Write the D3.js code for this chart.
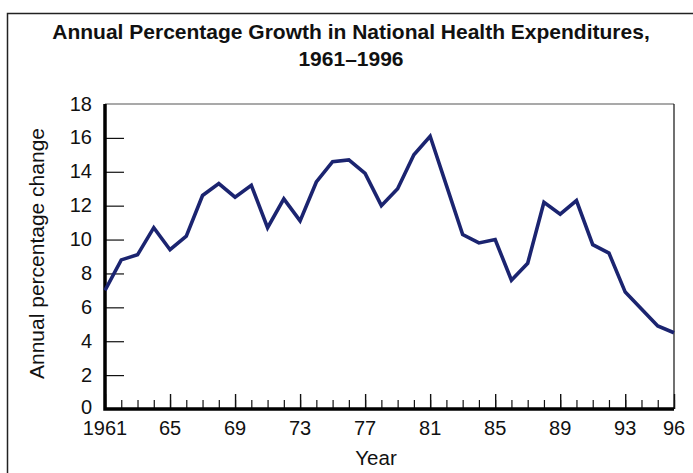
<!DOCTYPE html>
<html>
<head>
<meta charset="utf-8">
<script src="https://cdn.jsdelivr.net/npm/d3@7"></script>
<style>
	body { margin: 0; background: #fff; }
	text { font-family: "Liberation Sans", Arial, sans-serif; fill: #111; }
</style>
</head>
<body>
<script>

// annual % change in national health expenditures
var years = d3.range(1961, 1997)
var growth = [
	7.0, 8.8, 9.1, 10.7, 9.4, 10.2, 12.6, 13.3, 12.5, 13.2,
	10.7, 12.4, 11.1, 13.4, 14.6, 14.7, 13.9, 12.0, 13.0, 15.0,
	16.1, 13.2, 10.3, 9.8, 10.0, 7.6, 8.6, 12.2, 11.5, 12.3,
	9.7, 9.2, 6.9, 5.9, 4.9, 4.5
]
var yTicks = [0, 2, 4, 6, 8, 10, 12, 14, 16, 18]
var xLabelYears = [1961, 1965, 1969, 1973, 1977, 1981, 1985, 1989, 1993, 1996]
var titleLines = ['Annual Percentage Growth in National Health Expenditures,', '1961\u20131996']

var W = 693, H = 473
var margin = {top: 104, right: 19, bottom: 64, left: 105}

var svg = d3.select('body').append('svg')
	.attr('width', W)
	.attr('height', H)

// outer frame (runs off the right and bottom edges)
svg.append('rect')
	.attr('x', 7.5).attr('y', 13.5)
	.attr('width', 720).attr('height', 500)
	.attr('fill', 'none')
	.attr('stroke', '#222')
	.attr('stroke-width', 1.5)

svg.selectAll('.title').data(titleLines)
  .enter()
	.append('text')
	.attr('class', 'title')
	.attr('x', 351)
	.attr('y', function(d, i) { return 39 + i * 27 })
	.attr('text-anchor', 'middle')
	.style('font-weight', 'bold')
	.style('font-size', '21px')
	.text(function(d) { return d })

var x = d3.scaleLinear()
	.domain([1961, 1996])
	.range([margin.left, W - margin.right])

var y = d3.scaleLinear()
	.domain([0, 18])
	.range([H - margin.bottom, margin.top])

var g = svg.append('g')

// top and right frame of plot
g.append('line')
	.attr('x1', x(1961)).attr('x2', x(1996))
	.attr('y1', y(18)).attr('y2', y(18))
	.attr('stroke', '#555').attr('stroke-width', 1.2)
g.append('line')
	.attr('x1', x(1996)).attr('x2', x(1996))
	.attr('y1', y(18)).attr('y2', y(0))
	.attr('stroke', '#111').attr('stroke-width', 1.2)

// y ticks, drawn inward
var yAxis = g.append('g')
	.attr('transform', 'translate(' + x(1961) + ',0)')
	.call(d3.axisRight(y).tickValues(yTicks.slice(1, -1)).tickSize(19).tickFormat(''))
yAxis.select('.domain').remove()
yAxis.selectAll('line').attr('stroke', '#111').attr('stroke-width', 1.2)

g.selectAll('.ylabel').data(yTicks)
  .enter()
	.append('text')
	.attr('class', 'ylabel')
	.attr('x', x(1961) - 13)
	.attr('y', function(d) { return y(d) + (d === 0 ? 5 : 6.5) })
	.attr('text-anchor', 'end')
	.style('font-size', '20px')
	.text(function(d) { return d })

// x ticks: minor every year, major every 4 years
var xAxisMinor = g.append('g')
	.attr('transform', 'translate(0,' + y(0) + ')')
	.call(d3.axisTop(x).tickValues(years).tickSize(9).tickFormat(''))
xAxisMinor.select('.domain').remove()
xAxisMinor.selectAll('line').attr('stroke', '#111').attr('stroke-width', 1.2)

var xAxisMajor = g.append('g')
	.attr('transform', 'translate(0,' + y(0) + ')')
	.call(d3.axisTop(x).tickValues(xLabelYears).tickSize(15).tickFormat(''))
xAxisMajor.select('.domain').remove()
xAxisMajor.selectAll('line').attr('stroke', '#111').attr('stroke-width', 1.4)

g.selectAll('.xlabel').data(xLabelYears)
  .enter()
	.append('text')
	.attr('class', 'xlabel')
	.attr('x', function(d) { return x(d) })
	.attr('y', y(0) + 25.5)
	.attr('text-anchor', 'middle')
	.style('font-size', '20px')
	.text(function(d, i) { return i === 0 ? d : String(d).slice(2) })

// thick axis lines
g.append('path')
	.attr('d', 'M' + x(1961) + ',' + y(18) + 'V' + y(0) + 'H' + x(1996))
	.attr('fill', 'none')
	.attr('stroke', '#000')
	.attr('stroke-width', 3.5)

// the series
var line = d3.line()
	.x(function(d, i) { return x(years[i]) })
	.y(function(d) { return y(d) })

g.append('path')
	.datum(growth)
	.attr('d', line)
	.attr('fill', 'none')
	.attr('stroke', '#1b2470')
	.attr('stroke-width', 3.6)
	.attr('stroke-linejoin', 'miter')

svg.append('text')
	.attr('x', 376)
	.attr('y', 465)
	.attr('text-anchor', 'middle')
	.style('font-size', '20.5px')
	.text('Year')

svg.append('text')
	.attr('transform', 'translate(44,253.5) rotate(-90)')
	.attr('text-anchor', 'middle')
	.style('font-size', '21px')
	.text('Annual percentage change')

</script>
</body>
</html>
